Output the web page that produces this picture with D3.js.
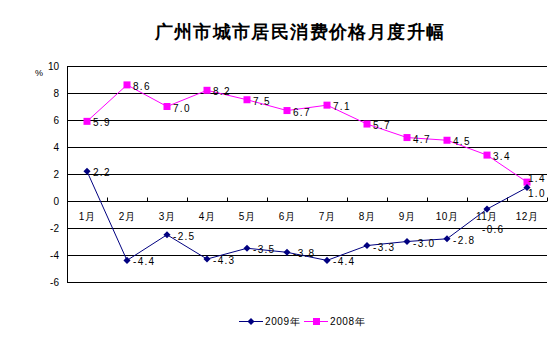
<!DOCTYPE html>
<html><head><meta charset="utf-8">
<script src="https://cdn.jsdelivr.net/npm/d3@7"></script>
<style>body{margin:0;background:#fff}svg{display:block}text{font-family:"Liberation Sans",Arial,sans-serif}</style>
</head><body><svg id="c" width="553" height="338"></svg>
<script>
const months = ["1月","2月","3月","4月","5月","6月","7月","8月","9月","10月","11月","12月"];
const y2009 = [2.2,-4.4,-2.5,-4.3,-3.5,-3.8,-4.4,-3.3,-3.0,-2.8,-0.6,1.0];
const y2008 = [5.9,8.6,7.0,8.2,7.5,6.7,7.1,5.7,4.7,4.5,3.4,1.4];
const yTicks = [10,8,6,4,2,0,-2,-4,-6];
const seriesNames = ["2009年","2008年"];
const title = "广州市城市居民消费价格月度升幅";

const svg = d3.select("#c");
const L=67,R=547,T=66,B=282;
const x = d3.scaleBand().domain(months).range([L,R]);
const y = d3.scaleLinear().domain([-6,10]).range([B,T]);

svg.append("text").attr("x",300).attr("y",38).attr("text-anchor","middle")
  .attr("font-size",18).attr("font-weight","bold").attr("letter-spacing",1.4)
  .attr("font-family","'Noto Sans CJK SC',sans-serif").text(title);

// gridlines
svg.append("g").selectAll("line").data(yTicks).join("line")
  .attr("x1",L).attr("x2",R).attr("y1",d=>Math.round(y(d))+0.5).attr("y2",d=>Math.round(y(d))+0.5)
  .attr("stroke","#000").attr("stroke-width",1);
svg.append("line").attr("x1",L+0.5).attr("x2",L+0.5).attr("y1",T).attr("y2",B+0.5).attr("stroke","#000");

// y labels
svg.append("g").selectAll("text").data(yTicks).join("text")
  .attr("x",59).attr("y",d=>y(d)+4).attr("text-anchor","end").attr("font-size",10).text(d=>d);
svg.append("text").attr("x",35).attr("y",76).attr("font-size",9).text("%");

// x ticks on zero line
const y0 = Math.round(y(0))+0.5;
svg.append("g").selectAll("line").data(months).join("line")
  .attr("x1",(d,i)=>Math.round(L+x.step()*(i+1))+0.5).attr("x2",(d,i)=>Math.round(L+x.step()*(i+1))+0.5)
  .attr("y1",y0-4).attr("y2",y0).attr("stroke","#000");
svg.append("g").selectAll("text").data(months).join("text")
  .attr("x",d=>x(d)+x.bandwidth()/2).attr("y",220).attr("text-anchor","middle")
  .attr("font-size",10).attr("letter-spacing",0.5)
  .attr("font-family","'Noto Sans CJK SC',sans-serif").text(d=>d);

const cx = d=>x(d)+x.bandwidth()/2;
const line = d3.line().x((d,i)=>cx(months[i])).y(d=>y(d));

// 2008
svg.append("path").datum(y2008).attr("d",line).attr("fill","none").attr("stroke","#ff00ff").attr("stroke-width",1);
svg.append("g").selectAll("rect").data(y2008).join("rect")
  .attr("x",(d,i)=>cx(months[i])-3.5).attr("y",d=>y(d)-3.5).attr("width",7).attr("height",7).attr("fill","#ff00ff");
// 2009
svg.append("path").datum(y2009).attr("d",line).attr("fill","none").attr("stroke","#000080").attr("stroke-width",1);
const diamond = d3.symbol().type(d3.symbolDiamond2).size(32);
svg.append("g").selectAll("path").data(y2009).join("path")
  .attr("transform",(d,i)=>`translate(${cx(months[i])},${y(d)})`).attr("d",diamond).attr("fill","#000080");

// labels
function lab(data, offs){
  svg.append("g").selectAll("text").data(data).join("text")
    .attr("x",(d,i)=>cx(months[i])+(offs[i]?offs[i][0]:6))
    .attr("y",(d,i)=>y(d)+(offs[i]?offs[i][1]:5))
    .attr("font-size",10).attr("letter-spacing",1.3).text(d=>d.toFixed(1));
}
const o08 = {}; o08[11]=[1,-0];
const o09 = {}; o09[10]=[-5,24]; o09[11]=[1,9];
lab(y2008,o08); lab(y2009,o09);

// legend
const lg = svg.append("g");
lg.append("line").attr("x1",239).attr("x2",263).attr("y1",321.5).attr("y2",321.5).attr("stroke","#000080");
lg.append("path").attr("transform","translate(251,321.5)").attr("d",diamond).attr("fill","#000080");
lg.append("text").attr("x",265).attr("y",325).attr("font-size",10).attr("letter-spacing",0.6)
  .attr("font-family","'Noto Sans CJK SC',sans-serif").text(seriesNames[0]);
lg.append("line").attr("x1",304).attr("x2",328).attr("y1",321.5).attr("y2",321.5).attr("stroke","#ff00ff");
lg.append("rect").attr("x",313).attr("y",318).attr("width",7).attr("height",7).attr("fill","#ff00ff");
lg.append("text").attr("x",330).attr("y",325).attr("font-size",10).attr("letter-spacing",0.6)
  .attr("font-family","'Noto Sans CJK SC',sans-serif").text(seriesNames[1]);
</script></body></html>
